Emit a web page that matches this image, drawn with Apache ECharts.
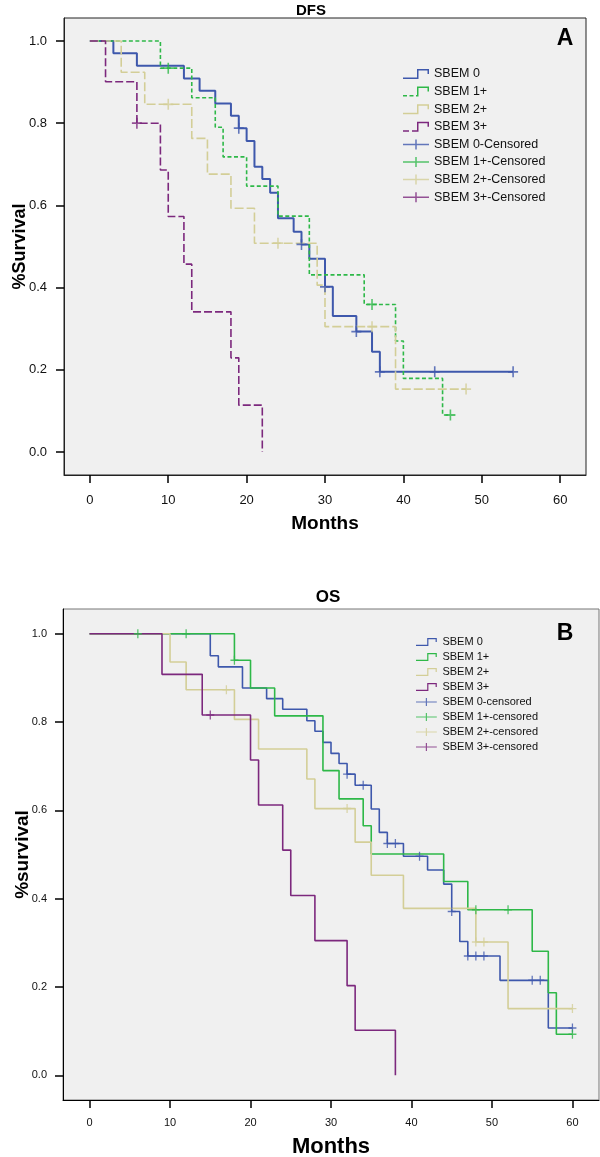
<!DOCTYPE html>
<html>
<head>
<meta charset="utf-8">
<script src="https://cdn.jsdelivr.net/npm/echarts@6/dist/echarts.min.js"></script>
<style>
  html, body { margin: 0; padding: 0; background: #fff; }
  #chart { width: 600px; height: 1157px; }
</style>
</head>
<body>
<div id="chart"></div>
<script>
// ticks
const monthTicks = [0, 10, 20, 30, 40, 50, 60];
const survTicks = [0, 0.2, 0.4, 0.6, 0.8, 1.0];

// DFS (panel A) - step times (months) and survival after each step
const dfs0Time = [0, 3, 6, 12, 14, 16, 18, 19, 20, 21, 22, 23, 24, 26, 27, 28, 30, 31, 34, 36, 37, 54];
const dfs0Surv = [1, 0.970, 0.940, 0.909, 0.879, 0.848, 0.818, 0.788, 0.757, 0.694, 0.664, 0.631, 0.569, 0.536, 0.505, 0.470, 0.402, 0.331, 0.293, 0.244, 0.195, 0.195];
const dfs0Cens = [19, 27, 30, 34, 37, 44, 54];

const dfs1Time = [0, 9, 13, 16, 17, 20, 24, 28, 35, 39, 40, 45, 46];
const dfs1Surv = [1, 0.934, 0.862, 0.790, 0.718, 0.647, 0.574, 0.431, 0.359, 0.270, 0.179, 0.090, 0.090];
const dfs1Cens = [10, 36, 46];

const dfs2Time = [0, 4, 7, 13, 15, 18, 21, 29, 30, 39, 48];
const dfs2Surv = [1, 0.924, 0.846, 0.763, 0.676, 0.593, 0.508, 0.406, 0.305, 0.153, 0.153];
const dfs2Cens = [10, 24, 36, 48];

const dfs3Time = [0, 2, 6, 9, 10, 12, 13, 18, 19, 22];
const dfs3Surv = [1, 0.901, 0.800, 0.686, 0.573, 0.457, 0.341, 0.229, 0.114, 0];
const dfs3Cens = [6];

// OS (panel B)
const os0Time = [0, 15, 16, 19, 22, 24, 27, 28, 29, 30, 31, 32, 33, 35, 36, 37, 39, 42, 44, 45, 46, 47, 51, 57, 60];
const os0Surv = [1, 0.950, 0.925, 0.877, 0.853, 0.829, 0.803, 0.779, 0.754, 0.729, 0.706, 0.682, 0.657, 0.603, 0.550, 0.525, 0.496, 0.465, 0.433, 0.371, 0.303, 0.270, 0.215, 0.107, 0.107];
const os0Cens = [32, 34, 37, 38, 41, 45, 47, 48, 49, 55, 56, 60];

const os1Time = [0, 18, 20, 23, 29, 31, 34, 35, 44, 47, 55, 57, 58, 60];
const os1Surv = [1, 0.940, 0.877, 0.814, 0.690, 0.626, 0.565, 0.501, 0.439, 0.375, 0.281, 0.187, 0.093, 0.093];
const os1Cens = [6, 12, 18, 48, 52, 60];

const os2Time = [0, 10, 12, 18, 21, 27, 28, 33, 35, 39, 48, 52, 60];
const os2Surv = [1, 0.936, 0.873, 0.806, 0.739, 0.671, 0.604, 0.528, 0.453, 0.378, 0.302, 0.151, 0.151];
const os2Cens = [17, 32, 48, 49, 60];

const os3Time = [0, 9, 14, 20, 21, 24, 25, 28, 32, 33, 38];
const os3Surv = [1, 0.908, 0.816, 0.714, 0.612, 0.510, 0.407, 0.305, 0.203, 0.102, 0];
const os3Cens = [15];

const groupNames = ["SBEM 0", "SBEM 1+", "SBEM 2+", "SBEM 3+"];
const colors = ["#3e58ac", "#2eb848", "#d3ce97", "#7c287d"];

const FONT = "'Liberation Sans', Arial, sans-serif";

// legend icons
const ICON_STEP = "path://M0,8.5H14V0H26V5H24.5V1.5H15.5V10H0Z";
const ICON_STEP_DASH = "path://M0,8.5H4V10H0Z M6.5,8.5H10.5V10H6.5Z M13,8.5H14V0H26V5H24.5V1.5H15.5V10H13Z";
const ICON_STEP_GAP = "path://M0,8.5H6V10H0Z M9,8.5H14V0H26V5H24.5V1.5H15.5V10H9Z";
const ICON_CENS = "path://M0,4.25H26V5.75H0Z M12.25,0H13.75V10H12.25Z";
const PLUS = "path://M0,4.2H10V5.8H0Z M4.2,0H5.8V10H4.2Z";

function survAt(times, surv, t) {
  let v = surv[0];
  for (let i = 0; i < times.length; i++) {
    if (times[i] <= t) v = surv[i];
  }
  return v;
}

function stepSeries(name, times, surv, color, idx, dash, width) {
  return {
    name: name,
    type: "line",
    step: "end",
    xAxisIndex: idx,
    yAxisIndex: idx,
    symbol: "none",
    data: times.map((t, i) => [t, surv[i]]),
    itemStyle: { color: color },
    lineStyle: { color: color, width: width, type: dash || "solid" },
    z: 3
  };
}

function censSeries(name, times, surv, cens, color, idx, size) {
  return {
    name: name,
    type: "scatter",
    xAxisIndex: idx,
    yAxisIndex: idx,
    symbol: PLUS,
    symbolSize: size,
    data: cens.map((c) => [c, survAt(times, surv, c)]),
    itemStyle: { color: color },
    z: 4
  };
}

function xAxisFor(idx, labelSize, nameSize, labelMargin, nameGap, lineColor) {
  return {
    gridIndex: idx,
    type: "value",
    min: -3.3,
    max: 63.3,
    name: "Months",
    nameLocation: "middle",
    nameGap: nameGap,
    nameMoveOverlap: false,
    nameTextStyle: { fontFamily: FONT, fontWeight: "bold", fontSize: nameSize, color: "#000" },
    axisLine: { show: true, onZero: false, lineStyle: { color: lineColor, width: 1 } },
    axisTick: { show: true, customValues: monthTicks, length: 8, lineStyle: { color: "#000", width: 1.5 } },
    axisLabel: { customValues: monthTicks, margin: labelMargin, fontFamily: FONT, fontSize: labelSize, color: "#111" },
    splitLine: { show: false }
  };
}

function yAxisFor(idx, name, labelSize, nameSize, labelMargin, nameGap, lineColor) {
  return {
    gridIndex: idx,
    type: "value",
    min: -0.056,
    max: 1.056,
    name: name,
    nameLocation: "middle",
    nameGap: nameGap,
    nameMoveOverlap: false,
    nameTextStyle: { fontFamily: FONT, fontWeight: "bold", fontSize: nameSize, color: "#000" },
    axisLine: { show: true, onZero: false, lineStyle: { color: lineColor, width: 1 } },
    axisTick: { show: true, customValues: survTicks, length: 8, lineStyle: { color: "#000", width: 1.5 } },
    axisLabel: {
      customValues: survTicks,
      margin: labelMargin,
      fontFamily: FONT,
      fontSize: labelSize,
      color: "#111",
      formatter: (v) => v.toFixed(1)
    },
    splitLine: { show: false }
  };
}

const chart = echarts.init(document.getElementById("chart"), null, { renderer: "canvas" });

const dfsDash = ["solid", [4, 2.5], [9, 3], [8, 3]];
const dfsSets = [
  [dfs0Time, dfs0Surv, dfs0Cens],
  [dfs1Time, dfs1Surv, dfs1Cens],
  [dfs2Time, dfs2Surv, dfs2Cens],
  [dfs3Time, dfs3Surv, dfs3Cens]
];
const osSets = [
  [os0Time, os0Surv, os0Cens],
  [os1Time, os1Surv, os1Cens],
  [os2Time, os2Surv, os2Cens],
  [os3Time, os3Surv, os3Cens]
];

const series = [];
dfsSets.forEach((s, i) => {
  series.push(stepSeries(groupNames[i], s[0], s[1], colors[i], 0, dfsDash[i], i === 0 ? 2 : 1.6));
});
dfsSets.forEach((s, i) => {
  series.push(censSeries(groupNames[i] + "-Censored", s[0], s[1], s[2], colors[i], 0, [10, 11]));
});
osSets.forEach((s, i) => {
  series.push(stepSeries(groupNames[i], s[0], s[1], colors[i], 1, "solid", 1.6));
});
osSets.forEach((s, i) => {
  series.push(censSeries(groupNames[i] + "-censored", s[0], s[1], s[2], colors[i], 1, [8, 9]));
});

const dfsIcons = [ICON_STEP, ICON_STEP_DASH, ICON_STEP, ICON_STEP_GAP];

chart.setOption({
  animation: false,
  backgroundColor: "#fff",
  grid: [
    { left: 64, top: 18, width: 522, height: 457, outerBoundsMode: "none", show: true, backgroundColor: "#f0f0f0", borderColor: "#222", borderWidth: 1 },
    { left: 63, top: 609, width: 536, height: 491, outerBoundsMode: "none", show: true, backgroundColor: "#f0f0f0", borderColor: "#777", borderWidth: 1 }
  ],
  xAxis: [
    xAxisFor(0, 13, 19, 19, 39, "#222"),
    xAxisFor(1, 11, 22, 17, 36, "#000")
  ],
  yAxis: [
    yAxisFor(0, "%Survival", 13, 18, 17, 35, "#222"),
    yAxisFor(1, "%survival", 11, 19, 16, 31, "#000")
  ],
  legend: [
    {
      orient: "vertical",
      left: 403,
      top: 67,
      padding: 0,
      itemWidth: 26,
      itemHeight: 10,
      itemGap: 3.6,
      selectedMode: false,
      textStyle: { fontFamily: FONT, fontSize: 12.5, lineHeight: 14, color: "#111" },
      itemStyle: { borderWidth: 0 },
      data: groupNames.map((n, i) => ({ name: n, icon: dfsIcons[i], itemStyle: { color: colors[i], borderWidth: 0 } }))
        .concat(groupNames.map((n, i) => ({ name: n + "-Censored", icon: ICON_CENS, itemStyle: { color: colors[i], borderWidth: 0 } })))
    },
    {
      orient: "vertical",
      left: 416,
      top: 636,
      padding: 0,
      itemWidth: 22,
      itemHeight: 8,
      itemGap: 3,
      selectedMode: false,
      textStyle: { fontFamily: FONT, fontSize: 11, lineHeight: 12, color: "#111" },
      itemStyle: { borderWidth: 0 },
      data: groupNames.map((n, i) => ({ name: n, icon: ICON_STEP, itemStyle: { color: colors[i], borderWidth: 0 } }))
        .concat(groupNames.map((n, i) => ({ name: n + "-censored", icon: ICON_CENS, itemStyle: { color: colors[i], borderWidth: 0 } })))
    }
  ],
  graphic: [
    { type: "text", x: 311, y: 11, style: { text: "DFS", font: "bold 15px " + FONT, fill: "#000", textAlign: "center", textVerticalAlign: "middle" } },
    { type: "text", x: 328, y: 597, style: { text: "OS", font: "bold 17px " + FONT, fill: "#000", textAlign: "center", textVerticalAlign: "middle" } },
    { type: "text", x: 565, y: 39, style: { text: "A", font: "bold 23px " + FONT, fill: "#000", textAlign: "center", textVerticalAlign: "middle" } },
    { type: "text", x: 565, y: 634, style: { text: "B", font: "bold 23px " + FONT, fill: "#000", textAlign: "center", textVerticalAlign: "middle" } }
  ],
  series: series
});
</script>
</body>
</html>
